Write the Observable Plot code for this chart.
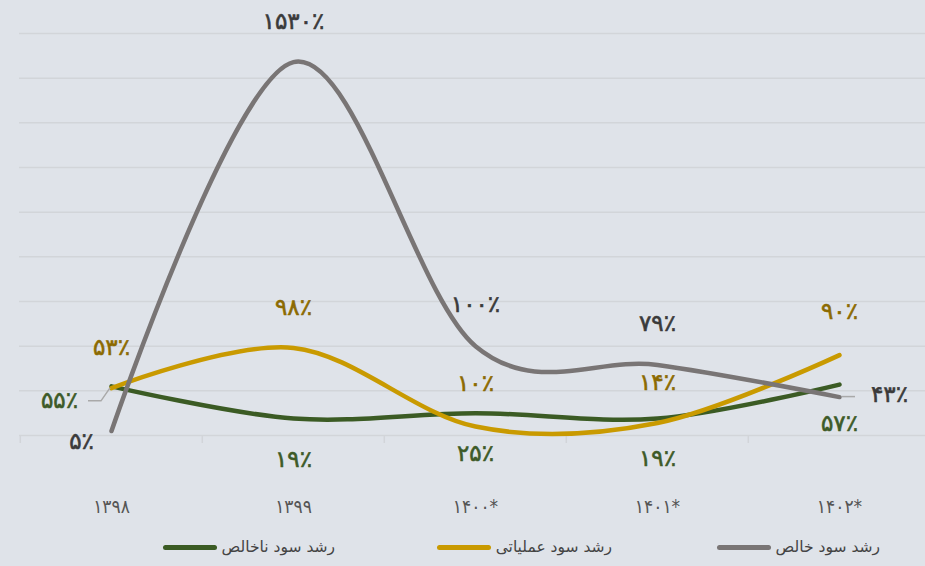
<!DOCTYPE html>
<html>
<head>
<meta charset="utf-8">
<script src="https://cdn.jsdelivr.net/npm/d3@7"></script>
<script src="https://cdn.jsdelivr.net/npm/@observablehq/plot@0.6"></script>
<style>
  html, body { margin: 0; padding: 0; background: #dfe3e9; }
  #wrap { position: relative; width: 925px; height: 566px; overflow: hidden; background: #dfe3e9; font-family: "DejaVu Sans", sans-serif; }
  #legend { position: relative; height: 36px; }
  .item { position: absolute; top: 8px; display: flex; flex-direction: row; align-items: center; gap: 5px; direction: ltr; }
  .swatch { width: 54px; height: 5px; border-radius: 3px; }
  .lab { font-size: 15.5px; color: #444; direction: rtl; }
</style>
</head>
<body>
<div id="wrap"><div id="chart"></div><div id="legend"></div></div>
<script>
// ---- data ----
const years = ["۱۳۹۸", "۱۳۹۹", "۱۴۰۰*", "۱۴۰۱*", "۱۴۰۲*"];
const seriesNames = ["رشد سود ناخالص", "رشد سود عملیاتی", "رشد سود خالص"];
const grossValues = [55, 19, 25, 19, 57];
const operatingValues = [53, 98, 10, 14, 90];
const netValues = [5, 418, 100, 79, 43];          // plotted position (peak drawn near 418 in the picture)
const grossLabels = ["۵۵٪", "۱۹٪", "۲۵٪", "۱۹٪", "۵۷٪"];
const operatingLabels = ["۵۳٪", "۹۸٪", "۱۰٪", "۱۴٪", "۹۰٪"];
const netLabels = ["۵٪", "۱۵۳۰٪", "۱۰۰٪", "۷۹٪", "۴۳٪"];
const gridTicks = [0, 50, 100, 150, 200, 250, 300, 350, 400, 450];

// ---- styles ----
const lineColors = ["#3b5b24", "#c99a00", "#797575"];
const labelColors = ["#3d5a27", "#8c6a00", "#3a3a3a"];
const labelDx = [[-52, 0, 0, 0, 0], [0, 0, 0, 0, 0], [-30, 0, 0, 0, 50]];
const labelDy = [[14, 41, 40, 40, 39], [-41, -40, -43, -40, -43], [11, -40, -42, -41, -2]];

const valuesBySeries = [grossValues, operatingValues, netValues];
const labelsBySeries = [grossLabels, operatingLabels, netLabels];

const rows = [];
seriesNames.forEach((s, k) => years.forEach((yr, i) => rows.push({series: s, k, i, year: yr, value: valuesBySeries[k][i], label: labelsBySeries[k][i]})));

const xRange = [19, 931];
const step = (xRange[1] - xRange[0]) / years.length;

const marks = [
  Plot.ruleY(gridTicks, {stroke: "#d2d5d9", strokeWidth: 1.5}),
  Plot.axisX({tickSize: 8, tickFormat: () => "", stroke: "#d2d5d9", strokeWidth: 1.5, dx: -step / 2}),
  Plot.axisX({tickSize: 0, tickPadding: 64, fontSize: 19, fill: "#555", fontFamily: "DejaVu Sans Condensed, DejaVu Sans"})
];
seriesNames.forEach((s, k) => {
  marks.push(Plot.line(rows.filter(r => r.k === k), {x: "year", y: "value", stroke: lineColors[k], strokeWidth: 4.5, curve: "cardinal", strokeLinecap: "round"}));
});
// leader lines for the two offset labels
function leader(k, i, pts) {
  return (index, scales) => {
    const px = scales.x(years[i]), py = scales.y(valuesBySeries[k][i]);
    const p = d3.path();
    pts.forEach(([dx, dy], j) => j ? p.lineTo(px + dx, py + dy) : p.moveTo(px + dx, py + dy));
    const el = d3.create("svg:path").attr("d", p.toString()).attr("fill", "none").attr("stroke", "#a9a9a9").attr("stroke-width", 1.5);
    return el.node();
  };
}
marks.push(leader(0, 0, [[-23, 15], [-10, 15], [-1, 2]]));
marks.push(leader(2, 4, [[3, 0], [16, 0]]));
rows.forEach(r => {
  marks.push(Plot.text([r], {x: "year", y: "value", text: "label", fill: labelColors[r.k], dx: labelDx[r.k][r.i], dy: labelDy[r.k][r.i], fontSize: 23, fontWeight: "normal", fontFamily: "DejaVu Sans", stroke: labelColors[r.k], strokeWidth: 0.6}));
});

const chart = Plot.plot({
  width: 925,
  height: 530,
  marginTop: 33,
  marginBottom: 95,
  marginLeft: 19,
  marginRight: 0,
  style: {background: "#dfe3e9", overflow: "hidden"},
  x: {type: "point", domain: years, range: xRange, padding: 0.5, label: null},
  y: {domain: [0, 450], range: [435, 33], axis: null},
  marks
});
document.getElementById("chart").appendChild(chart);

// legend (right to left)
const legendRight = [590, 313, 45];
const legend = document.getElementById("legend");
seriesNames.forEach((s, k) => {
  const it = document.createElement("div");
  it.className = "item";
  it.style.right = legendRight[k] + "px";
  it.innerHTML = `<div class="swatch" style="background:${lineColors[k]}"></div><div class="lab">${s}</div>`;
  legend.appendChild(it);
});
</script>
</body>
</html>
